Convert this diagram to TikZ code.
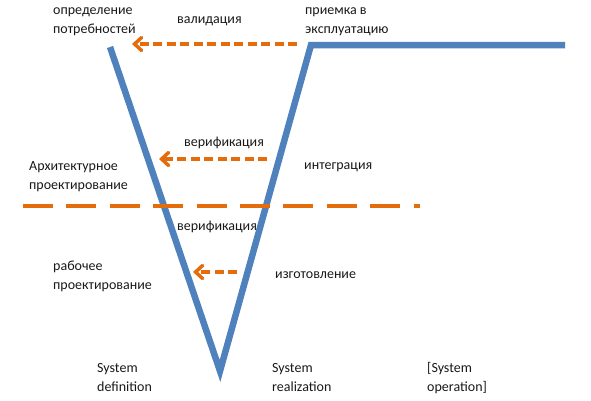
\documentclass[tikz,border=0pt]{standalone}
\usepackage{fontspec}
\setmainfont{Carlito}
\usetikzlibrary{arrows.meta}
\definecolor{vblue}{HTML}{4F81BD}
\definecolor{vorange}{HTML}{E46C0A}
\tikzset{
  lbl/.style={inner sep=0pt, align=left, anchor=base west, font=\fontsize{14}{19}\selectfont, text=black!90},
  vline/.style={draw=vblue, line width=6.5pt, line join=miter},
  fb/.style={draw=vorange, line width=4pt, dash pattern=on 9pt off 4.5pt, -{Straight Barb[length=7pt,width=13pt,line width=3.5pt,line cap=round]}},
  split/.style={draw=vorange, line width=4pt, dash pattern=on 30pt off 13.4pt}
}
\begin{document}
\begin{tikzpicture}[x=1pt,y=-1pt]
\useasboundingbox (0,0) rectangle (591,400);
% V curve
\coordinate (lt) at (110,47);
\coordinate (vb) at (220,371);
\coordinate (rt) at (311,45);
\coordinate (re) at (565,45);
\draw[vline] (lt) -- (vb) -- (rt) -- (re);
% split line
\coordinate (s1) at (23,206);
\coordinate (s2) at (420,206);
\draw[split] (s1) -- (s2);
% feedback arrows
\coordinate (a1s) at (297,44); \coordinate (a1e) at (132,44);
\coordinate (a2s) at (267,159); \coordinate (a2e) at (159,159);
\coordinate (a3s) at (237,272); \coordinate (a3e) at (193,272);
\draw[fb] (a1s) -- (a1e);
\draw[fb] (a2s) -- (a2e);
\draw[fb] (a3s) -- (a3e);
% labels (base anchor = baseline of last line)
\node[lbl] (t1) at (53,33.5) {определение\\потребностей};
\node[lbl] (t2) at (177,23) {валидация};
\node[lbl] (t3) at (305,33.5) {приемка в\\эксплуатацию};
\node[lbl] (t4) at (184,146) {верификация};
\node[lbl] (t5) at (29,189) {Архитектурное\\проектирование};
\node[lbl] (t6) at (304,169) {интеграция};
\node[lbl] (t7) at (177,230) {верификация};
\node[lbl] (t8) at (53,289) {рабочее\\проектирование};
\node[lbl] (t9) at (275,278) {изготовление};
\node[lbl] (t10) at (97,391) {System\\definition};
\node[lbl] (t11) at (272,391) {System\\realization};
\node[lbl] (t12) at (427,391) {[System\\operation]};
\end{tikzpicture}
\end{document}
